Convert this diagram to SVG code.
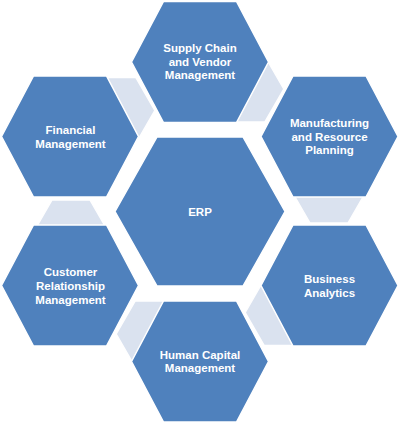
<svg xmlns="http://www.w3.org/2000/svg" width="400" height="424" viewBox="0 0 400 424">
<style>
.hex{fill:#4F81BD;stroke:#FFFFFF;stroke-width:1.5}
.link{fill:#DAE2EF;stroke:#FFFFFF;stroke-width:1.5}
.t{font-family:"Liberation Sans",Arial,sans-serif;font-weight:bold;font-size:11.5px;fill:#FFFFFF;text-anchor:middle}
</style>
<rect width="400" height="424" fill="#FFFFFF"/>
<g id="connectors">
<polygon class="link" points="291,190 310,157 348,157 367,190 348,223 310,223"/>
<polygon class="link" points="207.8,89 226.8,56 264.8,56 283.8,89 264.8,122 226.8,122"/>
<polygon class="link" points="78.8,110.5 97.8,77.5 135.8,77.5 154.8,110.5 135.8,143.5 97.8,143.5"/>
<polygon class="link" points="33,233 52,200 90,200 109,233 90,266 52,266"/>
<polygon class="link" points="116.2,334 135.2,301 173.2,301 192.2,334 173.2,367 135.2,367"/>
<polygon class="link" points="245.2,312.5 264.2,279.5 302.2,279.5 321.2,312.5 302.2,345.5 264.2,345.5"/>
</g>
<g id="erp">
<polygon class="hex" points="115,211.5 157,137 243,137 285,211.5 243,286 157,286"/>
<text class="t" x="200" y="215.5">ERP</text>
</g>
<g id="supply-chain">
<polygon class="hex" points="131.5,62 163.5,1.5 236.5,1.5 268.5,62 236.5,122.5 163.5,122.5"/>
<text class="t" x="200" y="52">Supply Chain</text>
<text class="t" x="200" y="65.7">and Vendor</text>
<text class="t" x="200" y="79.4">Management</text>
</g>
<g id="manufacturing">
<polygon class="hex" points="261,136.5 293,76 366,76 398,136.5 366,197 293,197"/>
<text class="t" x="329.5" y="126.8">Manufacturing</text>
<text class="t" x="329.5" y="140.5">and Resource</text>
<text class="t" x="329.5" y="154.2">Planning</text>
</g>
<g id="business-analytics">
<polygon class="hex" points="261,285.5 293,225 366,225 398,285.5 366,346 293,346"/>
<text class="t" x="329.5" y="283.3">Business</text>
<text class="t" x="329.5" y="297.2">Analytics</text>
</g>
<g id="human-capital">
<polygon class="hex" points="131.5,361.5 163.5,301 236.5,301 268.5,361.5 236.5,422 163.5,422"/>
<text class="t" x="200" y="358.5">Human Capital</text>
<text class="t" x="200" y="372.3">Management</text>
</g>
<g id="customer-relationship">
<polygon class="hex" points="1.5,285.5 33.5,225 106.5,225 138.5,285.5 106.5,346 33.5,346"/>
<text class="t" x="70.5" y="276">Customer</text>
<text class="t" x="70.5" y="290">Relationship</text>
<text class="t" x="70.5" y="304">Management</text>
</g>
<g id="financial">
<polygon class="hex" points="1.5,136.5 33.5,76 106.5,76 138.5,136.5 106.5,197 33.5,197"/>
<text class="t" x="70.5" y="134">Financial</text>
<text class="t" x="70.5" y="147.7">Management</text>
</g>
</svg>
